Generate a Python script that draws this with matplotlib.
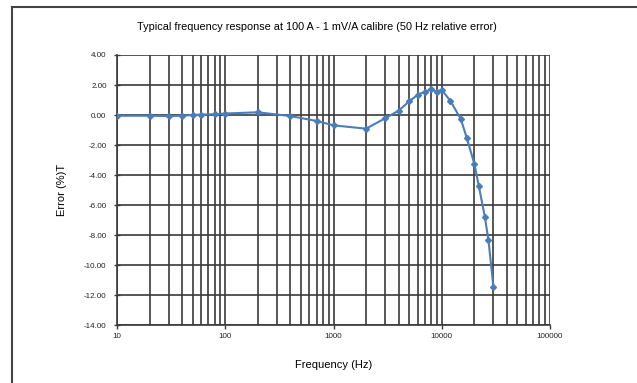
import numpy as np
import matplotlib
matplotlib.use("Agg")
import matplotlib.pyplot as plt
from matplotlib.lines import Line2D
from matplotlib.ticker import LogLocator, FixedLocator, NullFormatter

# frequência (Hz) e erro relativo (%)
FREQ = [10, 20, 30, 40, 50, 60, 80, 100, 200, 400, 700, 1000, 2000, 3000,
        4000, 5000, 6000, 7000, 8000, 9000, 10000, 12000, 15000, 17000,
        20000, 22000, 25000, 27000, 30000]
ERR = [-0.05, -0.05, -0.07, -0.05, 0.0, 0.03, 0.05, 0.10, 0.18, -0.07,
       -0.40, -0.69, -0.91, -0.22, 0.29, 0.91, 1.35, 1.55, 1.71, 1.55,
       1.67, 0.95, -0.27, -1.51, -3.25, -4.73, -6.78, -8.33, -11.45]

Y_TICKS = [4, 2, 0, -2, -4, -6, -8, -10, -12, -14]
X_TICKS = [10, 100, 1000, 10000, 100000]

TITLE = "Typical frequency response at 100 A - 1 mV/A calibre (50 Hz relative error)"
FONT = ["Liberation Sans Narrow", "Liberation Sans", "DejaVu Sans"]

plt.rcParams["font.family"] = FONT

fig = plt.figure(figsize=(6.37, 3.83), dpi=100)
ax = fig.add_axes([0.1837, 0.1514, 0.6797, 0.705])

GRID_C = "#3a3a3a"
ax.set_xscale("log")
ax.set_xlim(10, 100000)
ax.set_ylim(-14, 4)
ax.xaxis.set_major_locator(FixedLocator(X_TICKS))
ax.xaxis.set_minor_locator(LogLocator(base=10, subs=np.arange(2, 10)))
ax.xaxis.set_minor_formatter(NullFormatter())
ax.set_xticklabels([str(v) for v in X_TICKS])
ax.set_yticks(Y_TICKS)
ax.set_yticklabels([f"{v:.2f}" for v in Y_TICKS])
ax.grid(True, which="both", axis="x", color=GRID_C, linewidth=1.2)
ax.grid(True, which="major", axis="y", color=GRID_C, linewidth=1.2)
ax.tick_params(axis="both", which="both", labelsize=5.8, colors=GRID_C,
               labelcolor="#222222", length=3, width=1.0)
ax.tick_params(axis="y", direction="inout", length=5, pad=5)
ax.tick_params(axis="x", which="major", direction="out", length=3, pad=3)
ax.tick_params(axis="x", which="minor", length=0)
for s in ["top", "right"]:
    ax.spines[s].set_visible(False)
for s in ["left", "bottom"]:
    ax.spines[s].set_color(GRID_C)
    ax.spines[s].set_linewidth(1.2)

ax.plot(FREQ, ERR, color="#4a7ebb", linewidth=1.5, marker="D", markersize=3.0,
        markerfacecolor="#4a7ebb", markeredgecolor="#4a7ebb", zorder=3)

ax.set_xlabel("Frequency (Hz)", fontsize=8, labelpad=14)
ax.set_ylabel("Error (%)T", fontsize=8, labelpad=12)
fig.text(0.497, 0.93, TITLE, ha="center", va="center", fontsize=7.8)

# moldura externa (só topo e esquerda visíveis no recorte)
fig.add_artist(Line2D([12 / 637, 1.0], [1 - 7 / 383, 1 - 7 / 383],
                      transform=fig.transFigure, color="#444444", linewidth=1.5))
fig.add_artist(Line2D([12 / 637, 12 / 637], [0.0, 1 - 7 / 383],
                      transform=fig.transFigure, color="#444444", linewidth=1.5))

fig.savefig("out.png", dpi=100)
